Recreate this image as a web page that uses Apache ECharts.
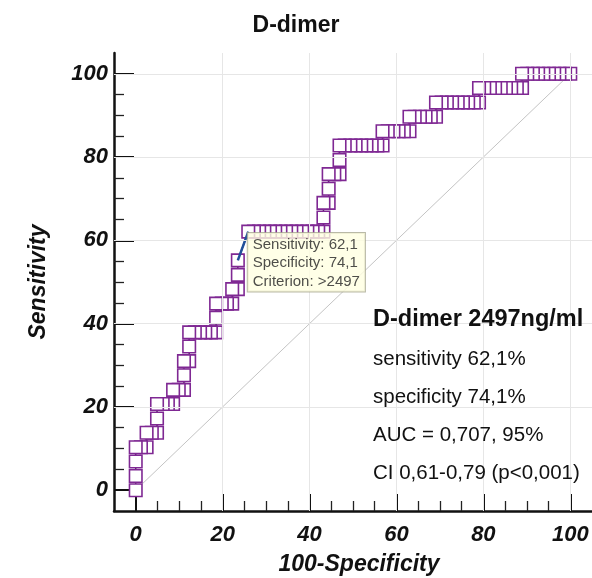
<!DOCTYPE html>
<html>
<head>
<meta charset="utf-8">
<script src="https://cdn.jsdelivr.net/npm/echarts@6/dist/echarts.min.js"></script>
<style>
  html, body { margin: 0; padding: 0; background: #ffffff; }
  #chart { width: 592px; height: 578px; }
</style>
</head>
<body>
<div id="chart"></div>
<script>
// Axis ticks: labelled majors every 20, short minors every 5
const majorTicks = [0, 20, 40, 60, 80, 100];
const minorTicks = [5, 10, 15, 25, 30, 35, 45, 50, 55, 65, 70, 75, 85, 90, 95];
const gridValues = [20, 40, 60, 80, 100];

// ROC curve points: [100-Specificity, Sensitivity]
const rocPoints = [
  [0, 0],
  [0, 3.4],
  [0, 6.9],
  [0, 10.3], [1.2, 10.3], [2.5, 10.3],
  [2.5, 13.8], [3.7, 13.8], [4.9, 13.8],
  [4.9, 17.2],
  [4.9, 20.7], [6.2, 20.7], [7.4, 20.7], [8.6, 20.7],
  [8.6, 24.1], [9.9, 24.1], [11.1, 24.1],
  [11.1, 27.6],
  [11.1, 31.0], [12.3, 31.0],
  [12.3, 34.5],
  [12.3, 37.9], [13.6, 37.9], [14.8, 37.9], [16.0, 37.9], [17.3, 37.9], [18.5, 37.9],
  [18.5, 41.4],
  [18.5, 44.8], [19.8, 44.8], [21.0, 44.8], [22.2, 44.8],
  [22.2, 48.3], [23.5, 48.3],
  [23.5, 51.7],
  [23.5, 55.2],
  [25.9, 62.1], [27.2, 62.1], [28.4, 62.1], [29.6, 62.1], [30.9, 62.1], [32.1, 62.1], [33.3, 62.1],
  [34.6, 62.1], [35.8, 62.1], [37.0, 62.1], [38.3, 62.1], [39.5, 62.1], [40.7, 62.1], [42.0, 62.1], [43.2, 62.1],
  [43.2, 65.5],
  [43.2, 69.0], [44.4, 69.0],
  [44.4, 72.4],
  [44.4, 75.9], [45.7, 75.9], [46.9, 75.9],
  [46.9, 79.3],
  [46.9, 82.8], [48.1, 82.8], [49.4, 82.8], [50.6, 82.8], [51.9, 82.8], [53.1, 82.8], [54.3, 82.8], [55.6, 82.8], [56.8, 82.8],
  [56.8, 86.2], [58.0, 86.2], [59.3, 86.2], [60.5, 86.2], [61.7, 86.2], [63.0, 86.2],
  [63.0, 89.7], [64.2, 89.7], [65.4, 89.7], [66.7, 89.7], [67.9, 89.7], [69.1, 89.7],
  [69.1, 93.1], [70.4, 93.1], [71.6, 93.1], [72.8, 93.1], [74.1, 93.1], [75.3, 93.1], [76.5, 93.1], [77.8, 93.1], [79.0, 93.1],
  [79.0, 96.6], [80.2, 96.6], [81.5, 96.6], [82.7, 96.6], [84.0, 96.6], [85.2, 96.6], [86.4, 96.6], [87.7, 96.6], [88.9, 96.6],
  [88.9, 100], [90.1, 100], [91.4, 100], [92.6, 100], [93.8, 100], [95.1, 100], [96.3, 100], [97.5, 100], [98.8, 100], [100, 100]
];

// Optimal cut-off and summary statistics
const criterionValue = 2497;
const criterionSensitivity = 62.1;
const criterionSpecificity = 74.1;
const auc = 0.707;
const ciLower = 0.61;
const ciUpper = 0.79;
const diagonal = [[0, 0], [100, 100]];

const criterionPoint = [Number((100 - criterionSpecificity).toFixed(1)), criterionSensitivity];
const criterionIndex = rocPoints.findIndex(p => p[0] === criterionPoint[0] && p[1] === criterionPoint[1]);
const criterionSegment = [rocPoints[criterionIndex - 1], criterionPoint];

const comma = (v, d) => v.toFixed(d).replace('.', ',');

const FONT = '"Liberation Sans", Arial, sans-serif';
const axisLabelStyle = {
  fontFamily: FONT, fontSize: 22, fontWeight: 'bold', fontStyle: 'italic', color: '#111'
};

function baseAxis(extra) {
  return Object.assign({
    type: 'value', min: -5, max: 105,
    splitLine: { show: false }
  }, extra);
}

const chart = echarts.init(document.getElementById('chart'), null, { renderer: 'canvas' });

chart.setOption({
  animation: false,
  backgroundColor: '#ffffff',
  title: {
    text: 'D-dimer', left: 'center', top: 9,
    textStyle: { fontFamily: FONT, fontSize: 23, fontWeight: 'bold', color: '#111' }
  },
  grid: { left: 114, right: 0, top: 53, bottom: 67, outerBoundsMode: 'none', containLabel: false },
  xAxis: [
    baseAxis({
      position: 'bottom',
      axisLine: { show: true, onZero: false, lineStyle: { color: '#111', width: 2.5 } },
      axisTick: { show: true, inside: true, length: 10, customValues: minorTicks, lineStyle: { color: '#222', width: 1.3 } },
      axisLabel: { show: false }
    }),
    baseAxis({
      position: 'bottom',
      axisLine: { show: false, onZero: false },
      axisTick: { show: true, inside: true, length: 17, customValues: majorTicks, lineStyle: { color: '#111', width: 2 } },
      axisLabel: Object.assign({ show: true, margin: 13, customValues: majorTicks }, axisLabelStyle),
      name: '100-Specificity', nameLocation: 'middle', nameGap: 42,
      nameTextStyle: { fontFamily: FONT, fontSize: 23, fontWeight: 'bold', fontStyle: 'italic', color: '#111', padding: [0, 0, 0, 12] }
    })
  ],
  yAxis: [
    baseAxis({
      position: 'left',
      axisLine: { show: true, onZero: false, lineStyle: { color: '#111', width: 2.5 } },
      axisTick: { show: true, inside: true, length: 10, customValues: minorTicks, lineStyle: { color: '#222', width: 1.3 } },
      axisLabel: { show: false }
    }),
    baseAxis({
      position: 'left',
      axisLine: { show: false, onZero: false },
      axisTick: { show: true, inside: true, length: 20, customValues: majorTicks, lineStyle: { color: '#111', width: 2 } },
      axisLabel: Object.assign({ show: true, margin: 6, customValues: majorTicks }, axisLabelStyle),
      name: 'Sensitivity', nameLocation: 'middle', nameGap: 64,
      nameTextStyle: { fontFamily: FONT, fontSize: 23, fontWeight: 'bold', fontStyle: 'italic', color: '#111' }
    })
  ],
  series: [
    {
      // reference diagonal and light grid
      type: 'line', data: diagonal, symbol: 'none', silent: true, z: 1,
      lineStyle: { color: '#c4c4c4', width: 1 },
      markLine: {
        silent: true, symbol: 'none', label: { show: false },
        lineStyle: { color: '#e6e6e6', width: 1, type: 'solid' },
        data: gridValues.map(v => ({ xAxis: v })).concat(gridValues.map(v => ({ yAxis: v })))
      }
    },
    {
      // ROC curve; drawn from the top right so lower-left markers sit on top
      type: 'line', data: rocPoints.slice().reverse(), z: 3,
      symbol: 'rect', symbolSize: 12.5, showAllSymbol: true,
      itemStyle: { color: '#ffffff', borderColor: '#7f2893', borderWidth: 1.6 },
      lineStyle: { color: '#4a1a58', width: 1.5 },
      emphasis: { disabled: true }
    },
    {
      // highlighted segment at the criterion
      type: 'line', data: criterionSegment, z: 4, symbol: 'none',
      lineStyle: { color: '#1f4f9a', width: 2.5 }
    },
    {
      // criterion callout
      type: 'scatter', data: [criterionPoint], z: 6, symbolSize: 1,
      itemStyle: { color: 'rgba(0,0,0,0)' },
      emphasis: { disabled: true },
      label: {
        show: true, position: [0, 2], align: 'left', verticalAlign: 'top',
        formatter: 'Sensitivity: ' + comma(criterionSensitivity, 1) +
                   '\nSpecificity: ' + comma(criterionSpecificity, 1) +
                   '\nCriterion: >' + criterionValue,
        fontFamily: FONT, fontSize: 15, lineHeight: 18.5, color: '#222',
        backgroundColor: '#ffffe1', borderColor: '#a8a890', borderWidth: 1,
        padding: [2, 5, 1, 5]
      }
    }
  ],
  graphic: [
    { type: 'text', x: 373, y: 320, z: 10,
      style: { text: 'D-dimer ' + criterionValue + 'ng/ml', fill: '#111', fontFamily: FONT, fontSize: 23.5, fontWeight: 'bold', verticalAlign: 'middle' } },
    { type: 'text', x: 373, y: 359, z: 10,
      style: { text: 'sensitivity ' + comma(criterionSensitivity, 1) + '%', fill: '#111', fontFamily: FONT, fontSize: 20.5, verticalAlign: 'middle' } },
    { type: 'text', x: 373, y: 397, z: 10,
      style: { text: 'specificity ' + comma(criterionSpecificity, 1) + '%', fill: '#111', fontFamily: FONT, fontSize: 20.5, verticalAlign: 'middle' } },
    { type: 'text', x: 373, y: 435, z: 10,
      style: { text: 'AUC = ' + comma(auc, 3) + ', 95%', fill: '#111', fontFamily: FONT, fontSize: 20.5, verticalAlign: 'middle' } },
    { type: 'text', x: 373, y: 473, z: 10,
      style: { text: 'CI ' + comma(ciLower, 2) + '-' + comma(ciUpper, 2) + ' (p<0,001)', fill: '#111', fontFamily: FONT, fontSize: 20.5, verticalAlign: 'middle' } }
  ]
});
</script>
</body>
</html>
